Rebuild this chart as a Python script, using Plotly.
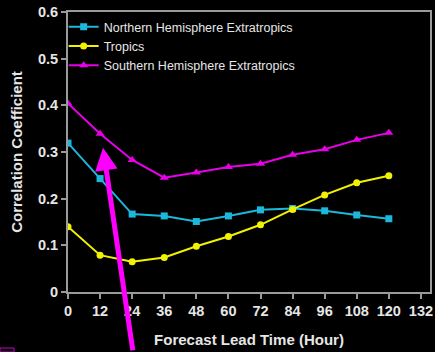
import plotly.graph_objects as go

lead_hours = [0, 12, 24, 36, 48, 60, 72, 84, 96, 108, 120]
nh_extratropics = [0.319, 0.243, 0.167, 0.163, 0.151, 0.163, 0.176, 0.179, 0.174, 0.165, 0.157]
tropics = [0.140, 0.079, 0.065, 0.074, 0.098, 0.119, 0.144, 0.177, 0.208, 0.234, 0.249]
sh_extratropics = [0.404, 0.339, 0.283, 0.245, 0.256, 0.268, 0.275, 0.294, 0.306, 0.326, 0.341]
x_ticks = list(range(0, 133, 12))
y_ticks = [0, 0.1, 0.2, 0.3, 0.4, 0.5, 0.6]

FONT = "Liberation Sans, Arial, sans-serif"
TXT = "#e6e6e6"
AXC = "#9a9a9a"

fig = go.Figure()
fig.add_trace(go.Scatter(x=lead_hours, y=nh_extratropics, mode="lines+markers",
                         name="Northern Hemisphere Extratropics",
                         line=dict(color="#1cb8dc", width=2),
                         marker=dict(symbol="square", size=7, color="#1cb8dc")))
fig.add_trace(go.Scatter(x=lead_hours, y=tropics, mode="lines+markers",
                         name="Tropics",
                         line=dict(color="#f2f200", width=2),
                         marker=dict(symbol="circle", size=7, color="#f2f200")))
fig.add_trace(go.Scatter(x=lead_hours, y=sh_extratropics, mode="lines+markers",
                         name="Southern Hemisphere Extratropics",
                         line=dict(color="#e800e8", width=2),
                         marker=dict(symbol="triangle-up", size=8, color="#e800e8")))

fig.update_layout(
    width=435, height=352,
    margin=dict(l=68, r=5, t=12, b=60, autoexpand=False),
    paper_bgcolor="#000000", plot_bgcolor="#000000",
    font=dict(family=FONT, color=TXT, size=12),
    showlegend=True,
    legend=dict(x=-0.012, y=1.0, xanchor="left", yanchor="top",
                bgcolor="rgba(0,0,0,0)", font=dict(size=12.5, color=TXT),
                tracegroupgap=0, itemwidth=30),
    xaxis=dict(range=[0, 135.4], tickvals=x_ticks, ticktext=[str(v) for v in x_ticks],
               automargin=False,
               showgrid=False, zeroline=False, showline=True, linecolor=AXC, linewidth=2,
               mirror=True, ticks="outside", ticklen=5, tickcolor=AXC, tickwidth=2,
               tickfont=dict(size=14.5, color=TXT, weight="bold"),
               title=dict(text="Forecast Lead Time (Hour)", font=dict(size=15, color=TXT, weight="bold"),
                          standoff=16)),
    yaxis=dict(range=[0, 0.6], tickvals=y_ticks, ticktext=["0", "0.1", "0.2", "0.3", "0.4", "0.5", "0.6"],
               automargin=False,
               showgrid=False, zeroline=False, showline=True, linecolor=AXC, linewidth=2,
               mirror=True, ticks="outside", ticklen=5, tickcolor=AXC, tickwidth=2,
               tickfont=dict(size=14.5, color=TXT, weight="bold"),
               title=dict(text="Correlation Coefficient", font=dict(size=15, color=TXT, weight="bold"),
                          standoff=12)),
)

# magenta arrow pointing at the 12-hour point
fig.add_annotation(x=13.1, y=0.309, xref="x", yref="y", ax=30, ay=204,
                   showarrow=True, arrowhead=2, arrowsize=0.9, arrowwidth=5,
                   arrowcolor="#ff00ff", text="")
# small magenta outline at bottom-left corner
fig.add_shape(type="rect", xref="paper", yref="paper", x0=-68/362, x1=-54/362,
              y0=-60/280, y1=-56/280, line=dict(color="#cc00cc", width=1))

fig.write_html("out.html", config={"displayModeBar": False},
               post_script="document.body.style.margin='0';document.body.style.padding='0';"
                           "document.body.style.background='#000';")
